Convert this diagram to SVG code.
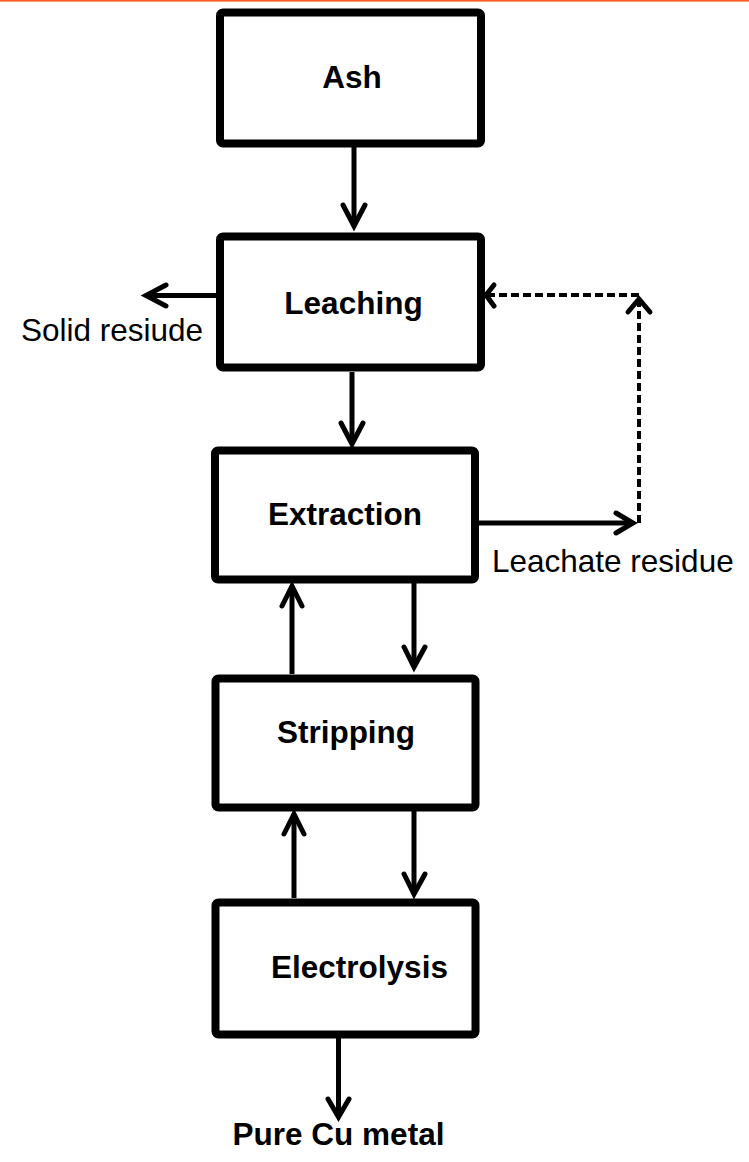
<svg xmlns="http://www.w3.org/2000/svg" width="749" height="1162" viewBox="0 0 749 1162">
<style>
.box{fill:#fff;stroke:#000;stroke-width:8;stroke-linejoin:round}
.lbl{font-family:"Liberation Sans",Arial,sans-serif;font-weight:bold;font-size:31.5px;fill:#000;text-anchor:middle}
.note{font-family:"Liberation Sans",Arial,sans-serif;font-size:31.5px;fill:#000}
.line{fill:none;stroke:#000;stroke-width:5}
.dash{fill:none;stroke:#000;stroke-width:4;stroke-dasharray:8 4}
.head{fill:none;stroke:#000;stroke-width:5;stroke-linecap:round;stroke-linejoin:miter}
</style>
<rect x="0" y="0" width="749" height="1162" fill="#fff"/>
<rect x="0" y="0" width="749" height="1.6" fill="#ff5a1f"/>
<g id="connectors">
  <line class="line" x1="354" y1="147" x2="354" y2="226"/>
  <polyline class="head" points="343,205 354,226 365,205"/>
  <line class="line" x1="352" y1="372" x2="352" y2="444"/>
  <polyline class="head" points="341,423 352,444 363,423"/>
  <line class="line" x1="216" y1="295.5" x2="146" y2="295.5"/>
  <polyline class="head" points="166,285 146,295.5 166,306"/>
  <line class="line" x1="479" y1="523" x2="632" y2="523"/>
  <polyline class="head" points="616,513 633,523 616,533"/>
  <line class="dash" x1="639" y1="523" x2="639" y2="300"/>
  <polyline class="head" points="628,312 639,299 650,312"/>
  <line class="dash" x1="639" y1="295" x2="487" y2="295"/>
  <polyline class="head" points="494,285 486,295 494,306"/>
  <line class="line" x1="414" y1="583" x2="414" y2="667"/>
  <polyline class="head" points="404,647 414,667 425,647"/>
  <line class="line" x1="292" y1="674" x2="292" y2="586"/>
  <polyline class="head" points="282,606 292,586 302,606"/>
  <line class="line" x1="414" y1="811" x2="414" y2="894"/>
  <polyline class="head" points="404,874 414,894 425,874"/>
  <line class="line" x1="294" y1="898" x2="294" y2="814"/>
  <polyline class="head" points="284,834 294,814 304,834"/>
  <line class="line" x1="338.5" y1="1038" x2="338.5" y2="1117"/>
  <polyline class="head" points="328,1099 338.5,1117 349,1099"/>
</g>
<g id="ash">
  <rect class="box" x="220" y="12.5" width="261" height="131" rx="3"/>
  <text class="lbl" x="352" y="88">Ash</text>
</g>
<g id="leaching">
  <rect class="box" x="220" y="236.5" width="261" height="131" rx="3"/>
  <text class="lbl" x="353.5" y="314">Leaching</text>
</g>
<g id="extraction">
  <rect class="box" x="215" y="450.5" width="260" height="129" rx="3"/>
  <text class="lbl" x="345" y="525">Extraction</text>
</g>
<g id="stripping">
  <rect class="box" x="215.5" y="678.5" width="260" height="129" rx="3"/>
  <text class="lbl" x="346" y="743">Stripping</text>
</g>
<g id="electrolysis">
  <rect class="box" x="215.5" y="902.5" width="260" height="132" rx="3"/>
  <text class="lbl" x="359.5" y="978">Electrolysis</text>
</g>
<g id="solid-residue">
  <text class="note" x="21" y="341">Solid resiude</text>
</g>
<g id="leachate-residue">
  <text class="note" x="492" y="572">Leachate residue</text>
</g>
<g id="pure-cu">
  <text class="lbl" x="338.5" y="1145">Pure Cu metal</text>
</g>
</svg>
